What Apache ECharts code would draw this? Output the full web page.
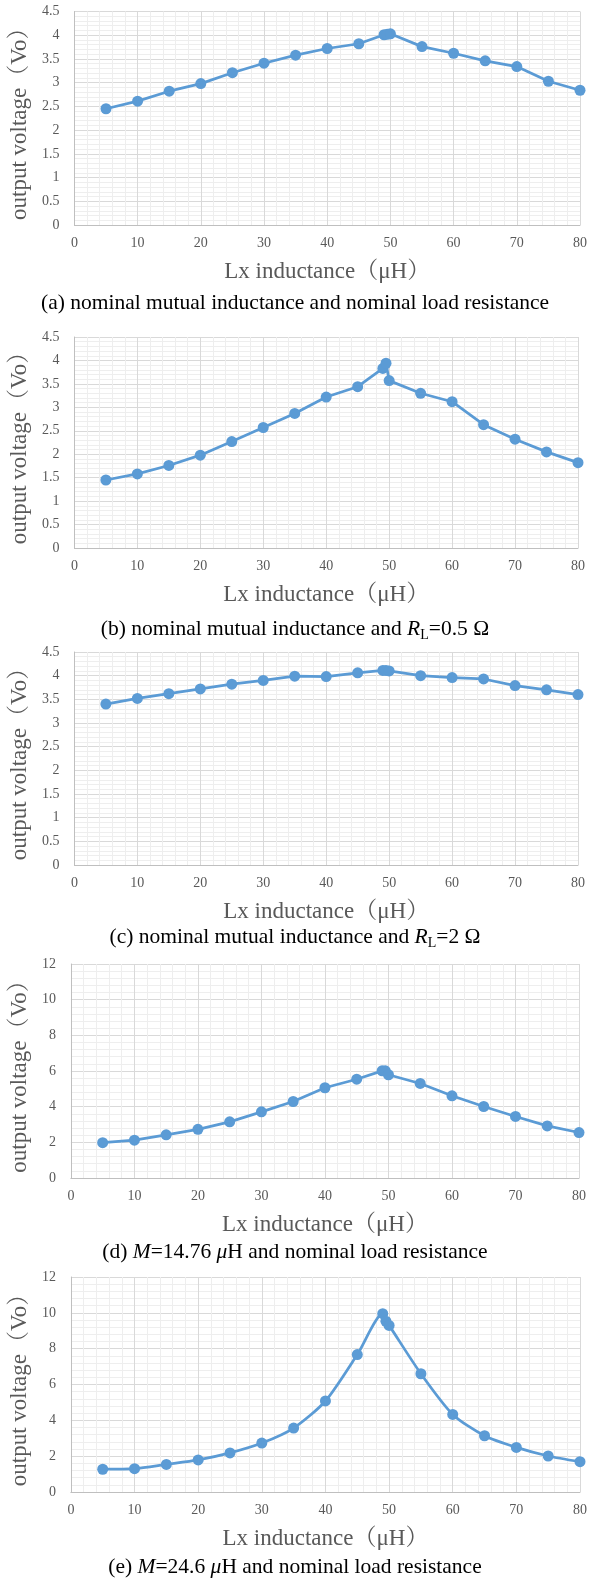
<!DOCTYPE html>
<html>
<head>
<meta charset="utf-8">
<script src="https://cdn.jsdelivr.net/npm/echarts@6/dist/echarts.min.js"></script>
<style>
html,body{margin:0;padding:0;background:#fff;}
#c{width:590px;height:1579px;}
</style>
</head>
<body>
<div id="c"></div>
<script>
// ---- data ----
const lx = [5, 10, 15, 20, 25, 30, 35, 40, 45, 49, 49.5, 50, 55, 60, 65, 70, 75, 80];
const voA = [2.45, 2.61, 2.82, 2.98, 3.21, 3.41, 3.58, 3.72, 3.82, 4.01, 4.02, 4.03, 3.76, 3.62, 3.46, 3.34, 3.03, 2.84];
const voB = [1.45, 1.58, 1.76, 1.98, 2.27, 2.57, 2.87, 3.22, 3.44, 3.83, 3.94, 3.57, 3.30, 3.12, 2.63, 2.32, 2.05, 1.82];
const voC = [3.40, 3.52, 3.62, 3.72, 3.82, 3.90, 3.99, 3.98, 4.06, 4.11, 4.11, 4.10, 4.00, 3.96, 3.93, 3.79, 3.70, 3.60];
const voD = [1.98, 2.12, 2.42, 2.73, 3.15, 3.71, 4.29, 5.06, 5.54, 6.01, 6.01, 5.79, 5.30, 4.61, 4.01, 3.45, 2.92, 2.55];
const voE = [1.27, 1.30, 1.54, 1.79, 2.18, 2.73, 3.57, 5.08, 7.67, 9.95, 9.53, 9.30, 6.60, 4.33, 3.14, 2.49, 2.01, 1.69];
const xTicks = [0, 10, 20, 30, 40, 50, 60, 70, 80];
const yMaxSmall = 4.5, yStepSmall = 0.5;
const yMaxLarge = 12, yStepLarge = 2;
const xTitle = 'Lx inductance\uFF08\u03BCH\uFF09';
const yTitle = 'output voltage\uFF08Vo\uFF09';
const captions = [
  '(a) nominal mutual inductance and nominal load resistance',
  '(b) nominal mutual inductance and {i|R}{sub|L}=0.5 \u03A9',
  '(c) nominal mutual inductance and {i|R}{sub|L}=2 \u03A9',
  '(d) {i|M}=14.76 {i|\u03BC}H and nominal load resistance',
  '(e) {i|M}=24.6 {i|\u03BC}H and nominal load resistance'
];

// ---- layout ----
const panels = [
  {vals: voA, max: yMaxSmall, step: yStepSmall, left: 71.5, right: 582, top: 11.5, bottom: 225, cap: 303, smooth: false},
  {vals: voB, max: yMaxSmall, step: yStepSmall, left: 69, right: 578, top: 337, bottom: 548, cap: 629, smooth: false},
  {vals: voC, max: yMaxSmall, step: yStepSmall, left: 67, right: 578, top: 652, bottom: 865, cap: 937, smooth: false},
  {vals: voD, max: yMaxLarge, step: yStepLarge, left: 65, right: 579, top: 964, bottom: 1178, cap: 1252, smooth: false},
  {vals: voE, max: yMaxLarge, step: yStepLarge, left: 63, right: 580, top: 1277, bottom: 1492, cap: 1567, smooth: 0.25}
];

const serif = '"Liberation Serif", "Times New Roman", "Noto Serif CJK SC", serif';
const gray = '#595959';
const blue = '#5B9BD5';

const grids = [], xAxes = [], yAxes = [], series = [], graphics = [];
panels.forEach((p, i) => {
  grids.push({left: p.left, top: p.top, width: p.right - p.left, height: p.bottom - p.top, containLabel: false});
  xAxes.push({
    type: 'value', gridIndex: i, min: xTicks[0], max: xTicks[xTicks.length - 1], interval: xTicks[1] - xTicks[0],
    name: xTitle, nameLocation: 'middle', nameGap: 35,
    nameTextStyle: {fontFamily: serif, fontSize: 23, color: gray},
    axisLine: {show: true, lineStyle: {color: '#bfbfbf', width: 1}},
    axisTick: {show: false},
    axisLabel: {margin: 11, fontFamily: serif, fontSize: 14, color: gray},
    splitLine: {show: true, lineStyle: {color: '#d9d9d9', width: 1}},
    minorTick: {show: false, splitNumber: 5},
    minorSplitLine: {show: true, lineStyle: {color: '#eeeeee', width: 1}}
  });
  yAxes.push({
    type: 'value', gridIndex: i, min: 0, max: p.max, interval: p.step,
    name: yTitle, nameLocation: 'middle', nameGap: p.left - 20 - 11,
    nameTextStyle: {fontFamily: serif, fontSize: 23, color: gray},
    axisLine: {show: true, lineStyle: {color: '#bfbfbf', width: 1}},
    axisTick: {show: false},
    axisLabel: {margin: 15, fontFamily: serif, fontSize: 14, color: gray},
    splitLine: {show: true, lineStyle: {color: '#d9d9d9', width: 1}},
    minorTick: {show: false, splitNumber: 5},
    minorSplitLine: {show: true, lineStyle: {color: '#eeeeee', width: 1}}
  });
  series.push({
    type: 'line', xAxisIndex: i, yAxisIndex: i,
    data: lx.map((x, k) => [x, p.vals[k]]),
    smooth: p.smooth,
    symbol: 'circle', symbolSize: 11,
    lineStyle: {color: blue, width: 2.75},
    itemStyle: {color: blue},
    animation: false
  });
  graphics.push({
    type: 'text', x: 295, y: p.cap,
    style: {
      text: captions[i], align: 'center', verticalAlign: 'middle',
      fontFamily: serif, fontSize: 21.5, fill: '#000',
      rich: {
        i: {fontFamily: serif, fontSize: 21.5, fontStyle: 'italic', fill: '#000', lineHeight: 26},
        sub: {fontFamily: serif, fontSize: 14, fill: '#000', verticalAlign: 'bottom', lineHeight: 14}
      },
      lineHeight: 26
    }
  });
});

const chart = echarts.init(document.getElementById('c'), null, {renderer: 'canvas'});
chart.setOption({
  animation: false,
  backgroundColor: '#fff',
  grid: grids, xAxis: xAxes, yAxis: yAxes, series: series,
  graphic: graphics
});
</script>
</body>
</html>
